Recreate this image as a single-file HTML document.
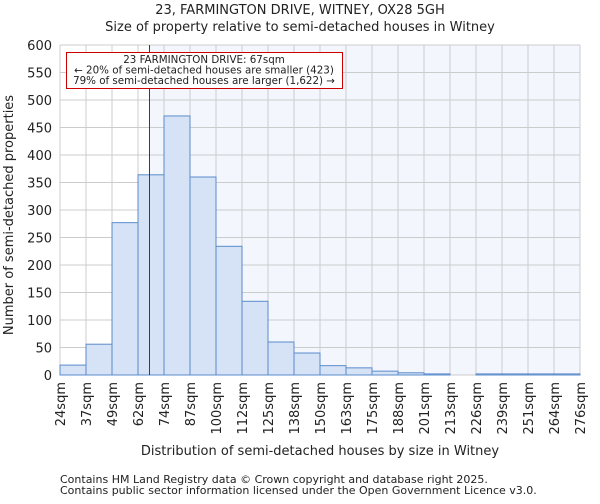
<!DOCTYPE html>
<html><head><meta charset="utf-8"><style>
body{margin:0;background:#fff;font-family:"DejaVu Sans","Liberation Sans",sans-serif}
text{font-family:"DejaVu Sans","Liberation Sans",sans-serif;fill:#222}
</style></head><body>
<svg id="chart" width="600" height="500" xmlns="http://www.w3.org/2000/svg">
<text x="300" y="14" text-anchor="middle" font-size="13">23, FARMINGTON DRIVE, WITNEY, OX28 5GH</text>
<text x="300" y="31" text-anchor="middle" font-size="13">Size of property relative to semi-detached houses in Witney</text>
<g id="plot"></g>
<text x="320" y="455" text-anchor="middle" font-size="13">Distribution of semi-detached houses by size in Witney</text>
<text transform="translate(13,215) rotate(-90)" text-anchor="middle" font-size="13">Number of semi-detached properties</text>
<text x="60" y="483" font-size="11" fill="#444">Contains HM Land Registry data © Crown copyright and database right 2025.</text>
<text x="60" y="494" font-size="11" fill="#444">Contains public sector information licensed under the Open Government Licence v3.0.</text>
</svg>
<script>
const binLabels=["24sqm","37sqm","49sqm","62sqm","74sqm","87sqm","100sqm","112sqm","125sqm","138sqm","150sqm","163sqm","175sqm","188sqm","201sqm","213sqm","226sqm","239sqm","251sqm","264sqm","276sqm"];
const binEdges=[24,37,49,62,74,87,100,112,125,138,150,163,175,188,201,213,226,239,251,264,276];
const counts=[18,56,277,364,471,360,234,134,60,40,17,13,7,4,2,0,2,2,2,2];
const yTicks=[0,50,100,150,200,250,300,350,400,450,500,550,600];
const propertySize=67;
const NS="http://www.w3.org/2000/svg";
const L=60,R=580,T=45,B=375,yMax=600;
const n=counts.length,bw=(R-L)/n;
const xIdx=i=>L+i*bw;
const xVal=v=>{let i=0;while(i<binEdges.length-2&&v>binEdges[i+1])i++;return xIdx(i)+bw*(v-binEdges[i])/(binEdges[i+1]-binEdges[i]);};
const y=v=>B-(B-T)*v/yMax;
const g=document.getElementById('plot');
function mk(t,a){const e=document.createElementNS(NS,t);for(const k in a)e.setAttribute(k,a[k]);g.appendChild(e);return e;}
const px=xVal(propertySize);
const pxs=Math.round(px)+0.5;
let e=mk('rect',{x:px,y:T,width:R-px,height:B-T,fill:'#f3f6fd'});


for(let i=0;i<=n;i++){e=mk('line',{x1:xIdx(i),x2:xIdx(i),y1:T,y2:B,stroke:'#ccc','stroke-width':1});

}
yTicks.forEach(t=>{e=mk('line',{x1:L,x2:R,y1:y(t),y2:y(t),stroke:'#ccc','stroke-width':1});


e=mk('text',{x:L-8,y:y(t)+5,'text-anchor':'end','font-size':13});e.textContent=t;

});
counts.forEach((c,i)=>{e=mk('rect',{x:xIdx(i),y:y(c),width:bw,height:B-y(c),fill:'#d6e2f5',stroke:'#5b8ccc','stroke-width':1});

});
binLabels.forEach((l,i)=>{const xx=xIdx(i);e=mk('text',{transform:`translate(${xx+5},382) rotate(-90)`,'text-anchor':'end','font-size':13});e.textContent=l;

});
e=mk('line',{x1:pxs,x2:pxs,y1:T,y2:B,stroke:'#cc0000','stroke-width':1});


e=mk('rect',{x:66.5,y:52.5,width:276,height:36,fill:'#fff',stroke:'#cc0000','stroke-width':1});


const lines=["23 FARMINGTON DRIVE: 67sqm","← 20% of semi-detached houses are smaller (423)","79% of semi-detached houses are larger (1,622) →"];
lines.forEach((s,i)=>{e=mk('text',{x:204,y:63+i*10.5,'text-anchor':'middle','font-size':10.3});e.textContent=s;

});
</script>
</body></html>
